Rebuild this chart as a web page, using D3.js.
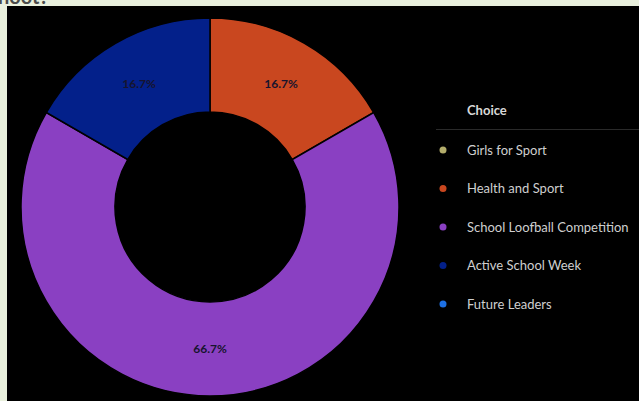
<!DOCTYPE html>
<html>
<head>
<meta charset="utf-8">
<script src="https://cdn.jsdelivr.net/npm/d3@7"></script>
<style>
  html, body { margin: 0; padding: 0; background: #e9f0dd; overflow: hidden; }
  svg { display: block; }
</style>
</head>
<body>
<svg id="chart" width="639" height="401"></svg>
<script>
// Votes per choice
const categories = ["Girls for Sport", "Health and Sport", "School Loofball Competition", "Active School Week", "Future Leaders"];
const values = [0, 1, 4, 1, 0];
const colors = ["#b3ad6b", "#c9471f", "#8a40c2", "#03208a", "#1d70e3"];
const legendTitle = "Choice";

const svg = d3.select("#chart");
const W = 639, H = 401;

// page heading, mostly scrolled off above the panel
svg.append("text")
  .attr("x", -2).attr("y", 4)
  .attr("font-family", "Lato, sans-serif")
  .attr("font-size", 20).attr("font-weight", 700)
  .attr("fill", "#4b4b4b")
  .text("hoot?");

// dark panel
svg.append("rect")
  .attr("x", 7).attr("y", 6)
  .attr("width", W - 7).attr("height", H - 6)
  .attr("fill", "#000");

const cx = 210, cy = 207, rOuter = 189, rInner = 95;
const total = d3.sum(values);

const pie = d3.pie().sort(null).value(d => d.value);
const arcs = pie(categories.map((c, i) => ({ name: c, value: values[i], color: colors[i] })));
const arc = d3.arc().innerRadius(rInner).outerRadius(rOuter);

const g = svg.append("g").attr("transform", `translate(${cx},${cy})`);

g.selectAll("path")
  .data(arcs.filter(a => a.data.value > 0))
  .join("path")
  .attr("d", arc)
  .attr("fill", d => d.data.color)
  .attr("stroke", "#000")
  .attr("stroke-width", 1.5);

g.selectAll("text.pct")
  .data(arcs.filter(a => a.data.value > 0))
  .join("text")
  .attr("class", "pct")
  .attr("transform", d => `translate(${arc.centroid(d)})`)
  .attr("text-anchor", "middle")
  .attr("dy", "0.35em")
  .attr("font-family", "Lato, sans-serif")
  .attr("font-size", 12).attr("font-weight", 700)
  .attr("fill", "#16142e")
  .text(d => d3.format(".1%")(d.data.value / total));

// legend
const lg = svg.append("g");
lg.append("text")
  .attr("x", 467).attr("y", 115)
  .attr("font-family", "Lato, sans-serif")
  .attr("font-size", 13).attr("font-weight", 700)
  .attr("fill", "#d8d8d8")
  .text(legendTitle);

lg.append("line")
  .attr("x1", 436).attr("x2", W)
  .attr("y1", 129.5).attr("y2", 129.5)
  .attr("stroke", "#2a2a2a").attr("stroke-width", 1);

const y = d3.scalePoint().domain(categories).range([150, 304]);

const items = lg.selectAll("g.item")
  .data(categories)
  .join("g")
  .attr("class", "item")
  .attr("transform", d => `translate(0,${y(d)})`);

items.append("circle")
  .attr("cx", 443).attr("cy", 0).attr("r", 3.5)
  .attr("fill", (d, i) => colors[i]);

items.append("text")
  .attr("x", 467).attr("y", 0)
  .attr("dy", "0.35em")
  .attr("font-family", "Lato, sans-serif")
  .attr("font-size", 13)
  .attr("fill", "#cfcfcf")
  .text(d => d);
</script>
</body>
</html>
